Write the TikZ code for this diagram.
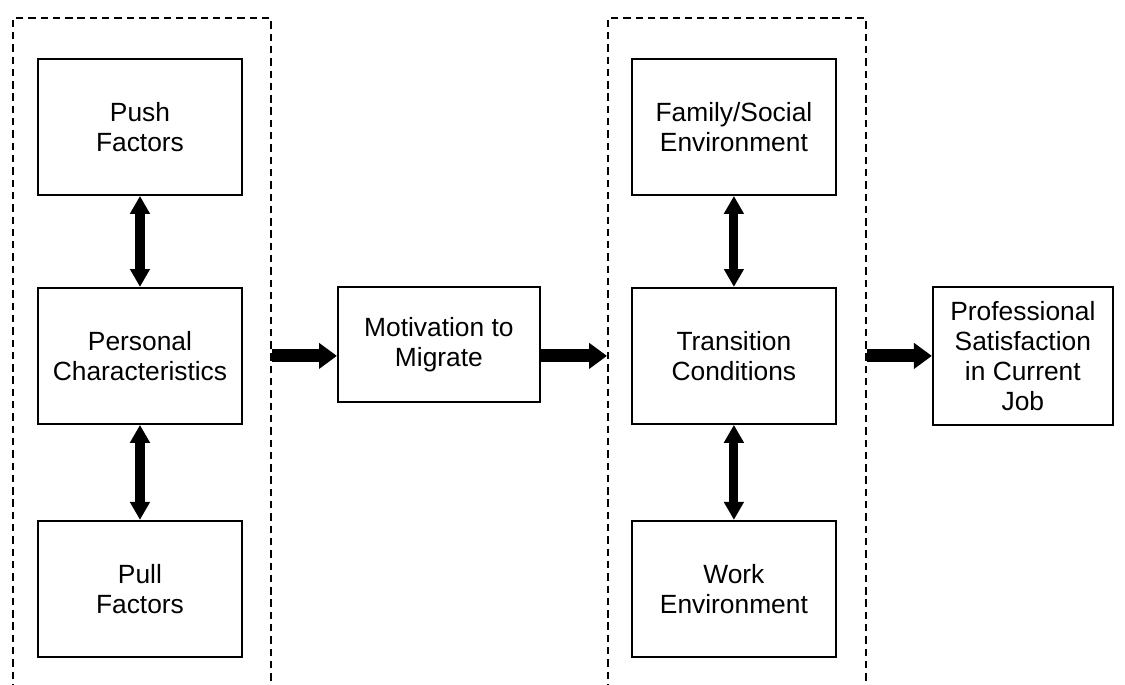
\documentclass[tikz,border=0pt]{standalone}
\usepackage{fontspec}
\setmainfont{Liberation Sans}
\usetikzlibrary{arrows.meta, positioning}

\begin{document}
\begin{tikzpicture}[
    every node/.style={font=\fontsize{15}{17}\selectfont},
    factor/.style={draw, line width=1.1pt, minimum width=4.08cm, minimum height=2.72cm, align=center, inner sep=2pt},
    groupbox/.style={draw, dash pattern=on 4.2pt off 2.8pt, line width=1pt, minimum width=5.16cm, minimum height=14cm, anchor=north west},
    link/.style={{Triangle[length=10.2pt, width=10.8pt]}-{Triangle[length=10.2pt, width=10.8pt]}, line width=5.2pt},
    flow/.style={-{Triangle[length=10.2pt, width=14.2pt]}, line width=7.4pt}
]
    \useasboundingbox (0,0) rectangle (22.5,-13.68);

    % Dashed groups (open at the bottom edge)
    \node[groupbox] (leftgrp) at (0.24,-0.34) {};
    \node[groupbox] (rightgrp) at (12.14,-0.34) {};

    % Left group
    \node[factor, anchor=north west] (push) at (0.74,-1.16) {Push\\Factors};
    \node[factor, below=1.82cm of push] (personal) {Personal\\Characteristics};
    \node[factor, below=1.9cm of personal] (pull) {Pull\\Factors};

    % Middle
    \node[factor, minimum width=4.04cm, minimum height=2.3cm, right=1.88cm of personal, yshift=0.22cm] (motiv) {Motivation to\\Migrate};

    % Right group
    \node[factor, right=7.76cm of push] (family) {Family/Social\\Environment};
    \node[factor, below=1.82cm of family] (transition) {Transition\\Conditions};
    \node[factor, below=1.9cm of transition] (work) {Work\\Environment};

    % Outcome
    \node[factor, minimum width=3.6cm, minimum height=2.76cm, right=1.9cm of transition] (prof) {Professional\\Satisfaction\\in Current\\Job};

    % Arrows
    \draw[link] (push) -- (personal);
    \draw[link] (personal) -- (pull);
    \draw[link] (family) -- (transition);
    \draw[link] (transition) -- (work);
    \draw[flow] (personal -| leftgrp.east) -- (personal -| motiv.west);
    \draw[flow] (motiv.east |- personal) -- (personal -| rightgrp.west);
    \draw[flow] (transition -| rightgrp.east) -- (prof);
\end{tikzpicture}
\end{document}
